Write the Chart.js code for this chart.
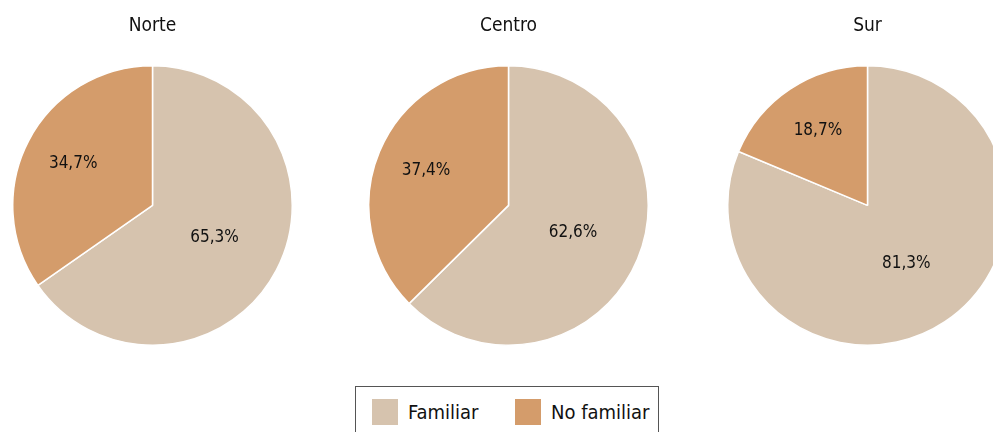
<!DOCTYPE html>
<html>
<head>
<meta charset="utf-8">
<script src="https://cdn.jsdelivr.net/npm/chart.js@4/dist/chart.umd.min.js"></script>
<style>
    html, body { margin: 0; padding: 0; background: #fff; overflow: hidden; }
    body { width: 993px; height: 432px; position: relative; font-family: "DejaVu Sans Condensed", "Noto Sans", sans-serif; }
    .pie { position: absolute; top: 0; width: 281px; height: 346px; }
    .legend {
        position: absolute; left: 355px; top: 386px; width: 304px; height: 60px;
        border: 1.5px solid #555; box-sizing: border-box;
    }
    .legend span.sw { position: absolute; top: 12px; width: 26px; height: 26px; }
    .legend span.tx { position: absolute; top: 12px; font-size: 20px; line-height: 26px; color: #111; }
</style>
</head>
<body>
<div class="pie" style="left:12px"><canvas id="pie0"></canvas></div>
<div class="pie" style="left:368px"><canvas id="pie1"></canvas></div>
<div class="pie" style="left:727px"><canvas id="pie2"></canvas></div>
<div class="legend" id="legend"></div>
<script>
// Data
const regions = ['Norte', 'Centro', 'Sur'];
const categories = ['Familiar', 'No familiar'];
const familiar = [65.3, 62.6, 81.3];
const noFamiliar = [34.7, 37.4, 18.7];
const colors = ['#d6c3ae', '#d49c6b'];

const fontFamily = '"DejaVu Sans Condensed", "Noto Sans", sans-serif';

// Draws the percentage inside each slice
const sliceLabels = {
    id: 'sliceLabels',
    afterDatasetsDraw(chart) {
        const ctx = chart.ctx;
        const meta = chart.getDatasetMeta(0);
        const data = chart.data.datasets[0].data;
        ctx.save();
        ctx.font = '17px ' + fontFamily;
        ctx.fillStyle = '#111';
        ctx.textAlign = 'center';
        ctx.textBaseline = 'middle';
        meta.data.forEach((arc, i) => {
            const p = arc.getProps(['x', 'y', 'startAngle', 'endAngle', 'outerRadius'], true);
            const mid = (p.startAngle + p.endAngle) / 2;
            const f = data[i] < 50 ? 0.64 : 0.5;
            const x = p.x + Math.cos(mid) * p.outerRadius * f;
            const y = p.y + Math.sin(mid) * p.outerRadius * f;
            ctx.fillText(data[i].toFixed(1).replace('.', ',') + '%', x, y);
        });
        ctx.restore();
    }
};

regions.forEach((region, i) => {
    new Chart(document.getElementById('pie' + i), {
        type: 'pie',
        data: {
            labels: categories,
            datasets: [{
                data: [familiar[i], noFamiliar[i]],
                backgroundColor: colors,
                borderColor: '#fff',
                borderWidth: 1.5
            }]
        },
        options: {
            responsive: true,
            maintainAspectRatio: false,
            animation: false,
            layout: { padding: 0 },
            plugins: {
                legend: { display: false },
                tooltip: { enabled: false },
                title: {
                    display: true,
                    text: region,
                    color: '#111',
                    font: { family: fontFamily, size: 19, weight: 'normal' },
                    padding: { top: 15, bottom: 27 }
                }
            }
        },
        plugins: [sliceLabels]
    });
});

// Legend
const legend = document.getElementById('legend');
const swX = [16, 159];
categories.forEach((c, i) => {
    legend.innerHTML += '<span class="sw" style="left:' + swX[i] + 'px;background:' + colors[i] + '"></span>' +
        '<span class="tx" style="left:' + (swX[i] + 36) + 'px">' + c + '</span>';
});
</script>
</body>
</html>
